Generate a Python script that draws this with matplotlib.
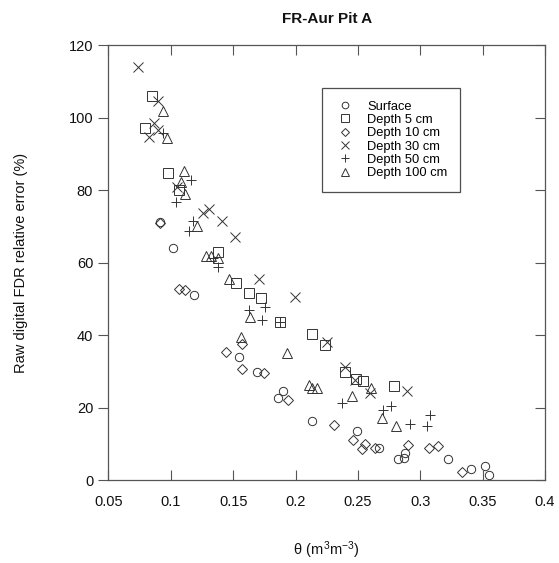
import matplotlib
matplotlib.use("Agg")
import matplotlib.pyplot as plt

plt.rcParams["font.family"] = ["Liberation Sans", "DejaVu Sans"]

# ── data: theta (m3/m3) vs relative error (%) ──────────────────────────────
surf_x = [0.0912, 0.1014, 0.1185, 0.1545, 0.1687, 0.190, 0.186, 0.2128, 0.2496,
          0.2667, 0.2880, 0.2870, 0.2818, 0.3222, 0.3403, 0.3515, 0.3550]
surf_y = [71.1, 63.9, 51.0, 34.0, 29.7, 24.5, 22.6, 16.4, 13.5,
          8.8, 7.5, 6.0, 5.7, 5.8, 3.1, 3.8, 1.4]

d5_x = [0.0846, 0.0792, 0.0979, 0.1065, 0.1375, 0.1521, 0.1623, 0.1727, 0.1879,
        0.2132, 0.2234, 0.2400, 0.2488, 0.2541, 0.2787]
d5_y = [106.0, 97.0, 84.8, 80.0, 63.0, 54.3, 51.5, 50.3, 43.7,
        40.4, 37.2, 29.9, 28.0, 27.4, 25.8]

d10_x = [0.0912, 0.1067, 0.1113, 0.1441, 0.1569, 0.1574, 0.1745, 0.194, 0.2306,
         0.2461, 0.2554, 0.2536, 0.2640, 0.2901, 0.3067, 0.3141, 0.3334]
d10_y = [71.0, 52.6, 52.4, 35.4, 37.5, 30.6, 29.6, 22.1, 15.2,
         11.0, 9.9, 8.6, 8.7, 9.6, 8.7, 9.5, 2.3]

d30_x = [0.0739, 0.0899, 0.0867, 0.0894, 0.0827, 0.1046, 0.1305, 0.1260, 0.1411,
         0.1513, 0.1703, 0.1999, 0.2250, 0.2394, 0.2475, 0.2594, 0.2893]
d30_y = [114.0, 104.6, 98.6, 96.6, 94.5, 80.9, 74.8, 73.6, 71.5,
         67.1, 55.4, 50.6, 38.0, 31.1, 27.6, 23.9, 24.6]

d50_x = [0.0940, 0.1158, 0.1041, 0.1180, 0.1147, 0.1340, 0.1379, 0.1625, 0.1753,
         0.1735, 0.1879, 0.2376, 0.2701, 0.2768, 0.2915, 0.3053, 0.3080]
d50_y = [95.8, 82.8, 76.8, 71.5, 68.7, 61.2, 58.9, 46.9, 47.8,
         44.1, 43.7, 21.3, 19.4, 20.3, 15.4, 14.8, 17.9]

d100_x = [0.0934, 0.0971, 0.1105, 0.1078, 0.1113, 0.1207, 0.1281, 0.1321, 0.1379,
          0.1465, 0.1633, 0.1563, 0.1932, 0.2106, 0.2135, 0.2170, 0.2602, 0.2456,
          0.2693, 0.2803]
d100_y = [101.8, 94.3, 85.2, 82.3, 78.9, 70.1, 61.8, 61.8, 61.2,
          55.4, 44.9, 39.5, 35.1, 26.3, 25.3, 25.3, 25.3, 23.3,
          17.1, 14.8]

INK = "#333333"

fig = plt.figure(figsize=(5.59, 5.63), dpi=100)
ax = fig.add_axes([0.194, 0.1474, 0.781, 0.7726])

series = [
    (surf_x, surf_y, "o", 6.0, "Surface"),
    (d5_x, d5_y, "s", 6.5, "Depth 5 cm"),
    (d10_x, d10_y, "D", 4.6, "Depth 10 cm"),
    (d30_x, d30_y, "x", 7.0, "Depth 30 cm"),
    (d50_x, d50_y, "+", 7.5, "Depth 50 cm"),
    (d100_x, d100_y, "^", 6.5, "Depth 100 cm"),
]
for xs, ys, mk, ms, lab in series:
    ax.plot(xs, ys, linestyle="none", marker=mk, markersize=ms,
            markerfacecolor="none", markeredgecolor=INK,
            markeredgewidth=0.7, label=lab)

ax.set_xlim(0.05, 0.4)
ax.set_ylim(0, 120)
ax.set_xticks([0.05, 0.1, 0.15, 0.2, 0.25, 0.3, 0.35, 0.4])
ax.set_xticklabels(["0.05", "0.1", "0.15", "0.2", "0.25", "0.3", "0.35", "0.4"])
ax.set_yticks(range(0, 121, 20))

for sp in ax.spines.values():
    sp.set_color("#555555")
    sp.set_linewidth(0.9)

ax.tick_params(axis="x", direction="in", length=7, width=0.8, color="#555555",
               top=True, labelsize=10.5, pad=11, labelcolor="#111111")
ax.tick_params(axis="y", which="both", left=True, right=False, direction="out",
               length=7, width=0.8, color="#555555", labelsize=10.5, pad=4,
               labelcolor="#111111")
# right side ticks point inward
ax_r = ax.secondary_yaxis("right")
ax_r.set_yticks(range(0, 121, 20))
ax_r.tick_params(direction="in", length=7, width=0.8, color="#555555",
                 labelright=False)
ax_r.spines["right"].set_visible(False)

ax.set_xlabel(r"$\mathregular{\theta\ (m^3m^{-3})}$", fontsize=10.5,
              labelpad=22, color="#111111")
ax.set_ylabel("Raw digital FDR relative error (%)", fontsize=10.5,
              labelpad=29, color="#111111")
ax.set_title("FR-Aur Pit A", fontsize=11, fontweight="bold", pad=16,
             color="#111111")

leg = ax.legend(loc="upper left", bbox_to_anchor=(0.489, 0.902),
                fontsize=9.3, frameon=True, fancybox=False, markerscale=0.8,
                borderpad=1.0, handletextpad=1.0, labelspacing=0.1,
                borderaxespad=0, handlelength=1.5)
leg.get_frame().set_edgecolor("#222222")
leg.get_frame().set_linewidth(0.9)

fig.savefig("out.png", dpi=100)
